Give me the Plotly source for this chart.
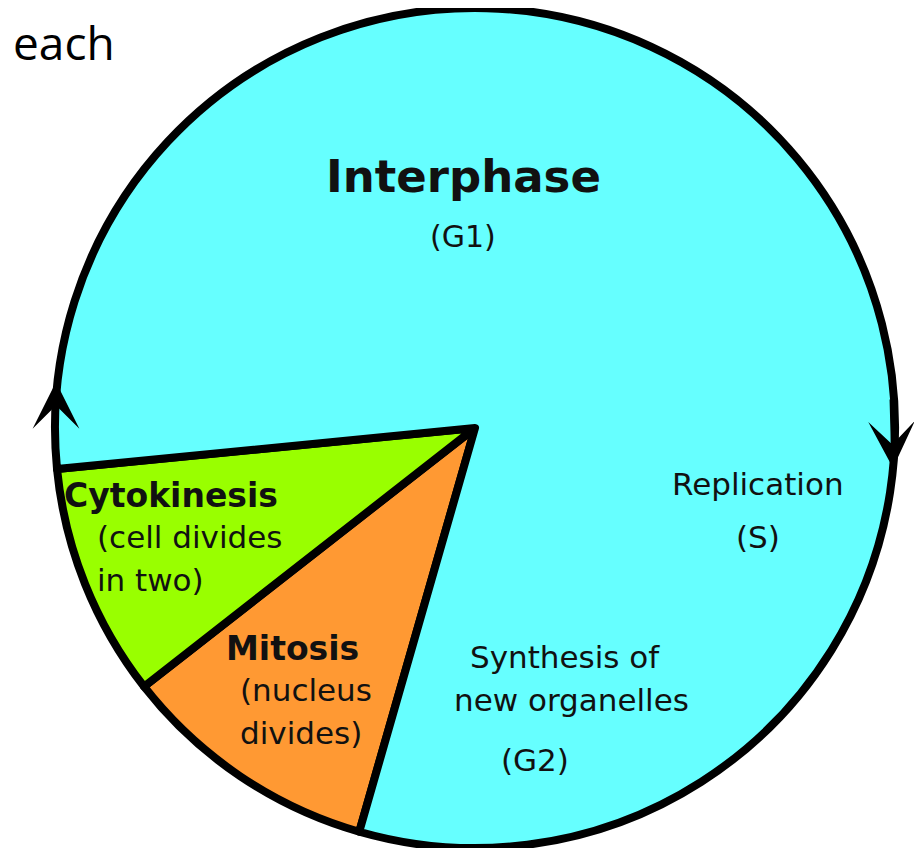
import plotly.graph_objects as go

# ---- data ----
phases = ["Mitosis", "Cytokinesis", "Interphase"]
shares = [10, 9, 81]          # share of the cycle (%)
start_angle = 196             # where the first slice begins (deg, clockwise from 12 o'clock)

# label texts
lbl_interphase = ["Interphase", "(G1)"]
lbl_replication = ["Replication", "(S)"]
lbl_synthesis = ["Synthesis of", "new organelles", "(G2)"]
lbl_cytokinesis = ["Cytokinesis", "(cell divides", "in two)"]
lbl_mitosis = ["Mitosis", "(nucleus", "divides)"]
slide_text = "each"

# ---- style ----
colors = ["#FF9933", "#99FF00", "#66FFFF"]
OFF = 8                       # page body margin
W, H = 922 - OFF, 848 - OFF
FONT = "DejaVu Sans"
TXT = "#111111"

fig = go.Figure(go.Pie(
    labels=phases,
    values=shares,
    sort=False,
    direction="clockwise",
    rotation=start_angle,
    marker=dict(colors=colors, line=dict(color="black", width=8)),
    textinfo="none",
    hoverinfo="label+percent",
    domain=dict(x=[0.0219, 1.0], y=[0.0, 1.0]),
    showlegend=False,
))


def px(x):
    return (x - OFF) / W


def py(y):
    return 1 - (y - OFF) / H


ann = []


def add(text, x, y, size, anchor="center", bold=False):
    t = f"<b>{text}</b>" if bold else text
    ann.append(dict(text=t, x=px(x), y=py(y), xref="paper", yref="paper",
                    xanchor=anchor, yanchor="middle", showarrow=False,
                    font=dict(family=FONT, size=size, color=TXT)))


add(lbl_interphase[0], 463, 177, 45, bold=True)
add(lbl_interphase[1], 463, 237, 30)
add(lbl_replication[0], 758, 484, 31)
add(lbl_replication[1], 758, 537, 31)
add(lbl_synthesis[0], 565, 657, 31)
add(lbl_synthesis[1], 571, 700, 31)
add(lbl_synthesis[2], 535, 760, 31)
add(lbl_cytokinesis[0], 62, 495, 33, anchor="left", bold=True)
add(lbl_cytokinesis[1], 95, 537, 31, anchor="left")
add(lbl_cytokinesis[2], 95, 580, 31, anchor="left")
add(lbl_mitosis[0], 224, 648, 33, anchor="left", bold=True)
add(lbl_mitosis[1], 238, 690, 31, anchor="left")
add(lbl_mitosis[2], 238, 733, 31, anchor="left")

# partial slide text at top-left
ann.append(dict(text=slide_text, x=px(116), y=py(10), xref="paper", yref="paper",
                xanchor="right", yanchor="top", showarrow=False, borderpad=0,
                font=dict(family="Open Sans", size=46, color="black")))

# direction arrowheads on the rim
ann.append(dict(text="", x=px(56), y=py(382), xref="paper", yref="paper",
                showarrow=True, ax=0, ay=70, arrowhead=3, arrowwidth=3,
                arrowsize=2.6, arrowcolor="black"))
ann.append(dict(text="", x=px(893), y=py(468), xref="paper", yref="paper",
                showarrow=True, ax=-2, ay=-70, arrowhead=3, arrowwidth=3,
                arrowsize=2.6, arrowcolor="black"))

fig.update_layout(
    width=W, height=H,
    margin=dict(l=0, r=0, t=0, b=0),
    paper_bgcolor="white",
    plot_bgcolor="white",
    annotations=ann,
)

fig.write_html("out.html")
